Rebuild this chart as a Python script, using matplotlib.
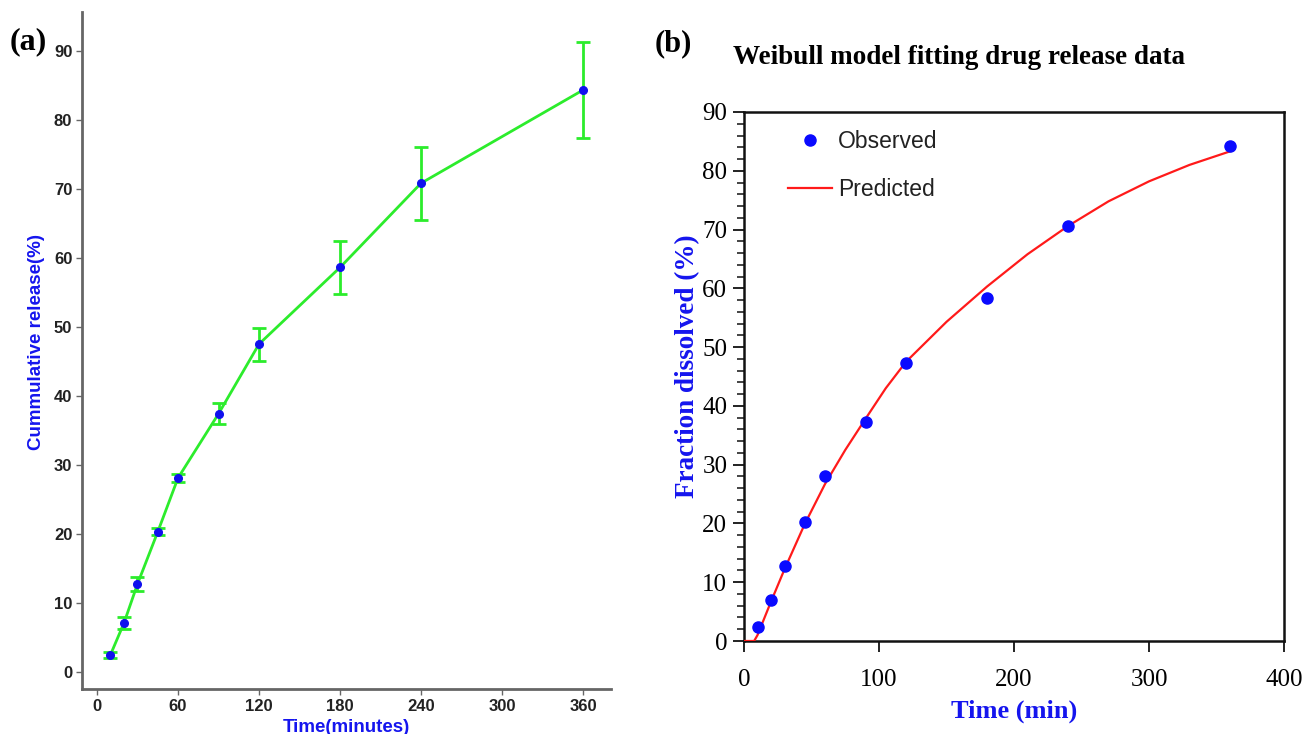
import matplotlib
matplotlib.use("Agg")
import matplotlib.pyplot as plt
from matplotlib.ticker import MultipleLocator

# ---------------- data ----------------
time_a = [10, 20, 30, 45, 60, 90, 120, 180, 240, 360]
release_a = [2.5, 7.1, 12.75, 20.3, 28.1, 37.4, 47.5, 58.6, 70.8, 84.3]
err_a = [0.4, 0.8, 1.0, 0.5, 0.6, 1.5, 2.4, 3.9, 5.3, 7.0]
xticks_a = [0, 60, 120, 180, 240, 300, 360]
yticks_a = [0, 10, 20, 30, 40, 50, 60, 70, 80, 90]

time_obs = [10, 20, 30, 45, 60, 90, 120, 180, 240, 360]
observed = [2.4, 7.0, 12.8, 20.2, 28.1, 37.2, 47.3, 58.4, 70.6, 84.3]
time_pred = [0, 7.5, 10, 20, 30, 45, 60, 75, 90, 105, 120, 150, 180, 210, 240, 270, 300, 330, 360]
predicted = [0, 0, 1.0, 6.7, 12.2, 19.9, 26.7, 32.5, 37.8, 43.0, 47.5, 54.3, 60.3, 65.8, 70.6, 74.8, 78.2, 81.0, 83.3]
xticks_b = [0, 100, 200, 300, 400]
yticks_b = [0, 10, 20, 30, 40, 50, 60, 70, 80, 90]

W, H = 1306, 734
fig = plt.figure(figsize=(W / 100, H / 100), dpi=100)


def fx(px):
    return px / W


def fy(py):
    return 1 - py / H


# ---------------- panel (a) ----------------
axa = fig.add_axes([fx(82), fy(689), fx(611) - fx(82), fy(12) - fy(689)])
green = "#2cec2c"
axa.errorbar(time_a, release_a, yerr=err_a, color=green, lw=2.0, elinewidth=2.0,
             capsize=5, capthick=2.0, marker="o", ms=5.5, mfc="#1010ee",
             mec="#1010ee", zorder=3)
axa.set_xlim(-11.1, 380.7)
axa.set_ylim(-2.46, 95.6)
axa.set_xticks(xticks_a)
axa.set_yticks(yticks_a)
for s in ["top", "right"]:
    axa.spines[s].set_visible(False)
for s in ["left", "bottom"]:
    axa.spines[s].set_color("#666666")
    axa.spines[s].set_linewidth(2.0)
axa.tick_params(axis="both", length=4, width=1, color="#666666", pad=3,
                labelsize=12, labelcolor="#222222")
for lab in axa.get_xticklabels() + axa.get_yticklabels():
    lab.set_fontfamily("Liberation Sans")
    lab.set_fontweight("bold")
axa.set_xlabel("Time(minutes)", family="Liberation Sans", fontweight="bold",
               fontsize=13.5, color="#1515ee", labelpad=3.5)
axa.set_ylabel("Cummulative release(%)", family="Liberation Sans", fontweight="bold",
               fontsize=13.5, color="#1515ee", labelpad=0)
axa.yaxis.set_label_coords((45 - 82) / (611 - 82), (689 - 342) / (689 - 12))
fig.text(fx(10), fy(42), "(a)", family="Liberation Serif", fontweight="bold",
         fontsize=23, ha="left", va="center")

# ---------------- panel (b) ----------------
axb = fig.add_axes([fx(744), fy(641), fx(1284) - fx(744), fy(112) - fy(641)])
axb.plot(time_pred, predicted, color="#ff1a1a", lw=1.6, label="Predicted", zorder=3)
axb.plot(time_obs, observed, "o", color="#0a0aff", ms=8, label="Observed", zorder=4)
axb.set_xlim(0, 400)
axb.set_ylim(0, 90)
axb.set_xticks(xticks_b)
axb.set_yticks(yticks_b)
axb.yaxis.set_minor_locator(MultipleLocator(2))
for s in axb.spines.values():
    s.set_color("#111111")
    s.set_linewidth(1.8)
axb.tick_params(axis="both", which="major", direction="out", length=8, width=1.3,
                color="#111111", labelsize=18, pad=4)
axb.tick_params(axis="x", which="major", pad=12)
axb.tick_params(axis="y", which="minor", direction="out", length=5, width=1.1,
                color="#111111")
for lab in axb.get_xticklabels() + axb.get_yticklabels():
    lab.set_fontfamily("Liberation Serif")
axb.set_xlabel("Time (min)", family="Liberation Serif", fontweight="bold",
               fontsize=19, color="#1515ee", labelpad=6)
axb.set_ylabel("Fraction dissolved (%)", family="Liberation Serif", fontweight="bold",
               fontsize=19.5, color="#1515ee", labelpad=0)
axb.yaxis.set_label_coords((700 - 744) / 540, (641 - 366) / 529)

handles, labels = axb.get_legend_handles_labels()
order = [1, 0]
leg = axb.legend([handles[i] for i in order], [labels[i] for i in order],
                 loc="upper left", bbox_to_anchor=(fx(788), fy(130)),
                 bbox_transform=fig.transFigure, frameon=False, borderpad=0,
                 borderaxespad=0, handlelength=1.9, handletextpad=0.28,
                 labelspacing=1.09, prop={"family": "Liberation Sans", "size": 16.5})
for t in leg.get_texts():
    t.set_color("#222222")

fig.text(fx(733), fy(57), "Weibull model fitting drug release data",
         family="Liberation Serif", fontweight="bold", fontsize=19.5,
         ha="left", va="center")
fig.text(fx(655), fy(44), "(b)", family="Liberation Serif", fontweight="bold",
         fontsize=22, ha="left", va="center")

fig.savefig("out.png", dpi=100)
